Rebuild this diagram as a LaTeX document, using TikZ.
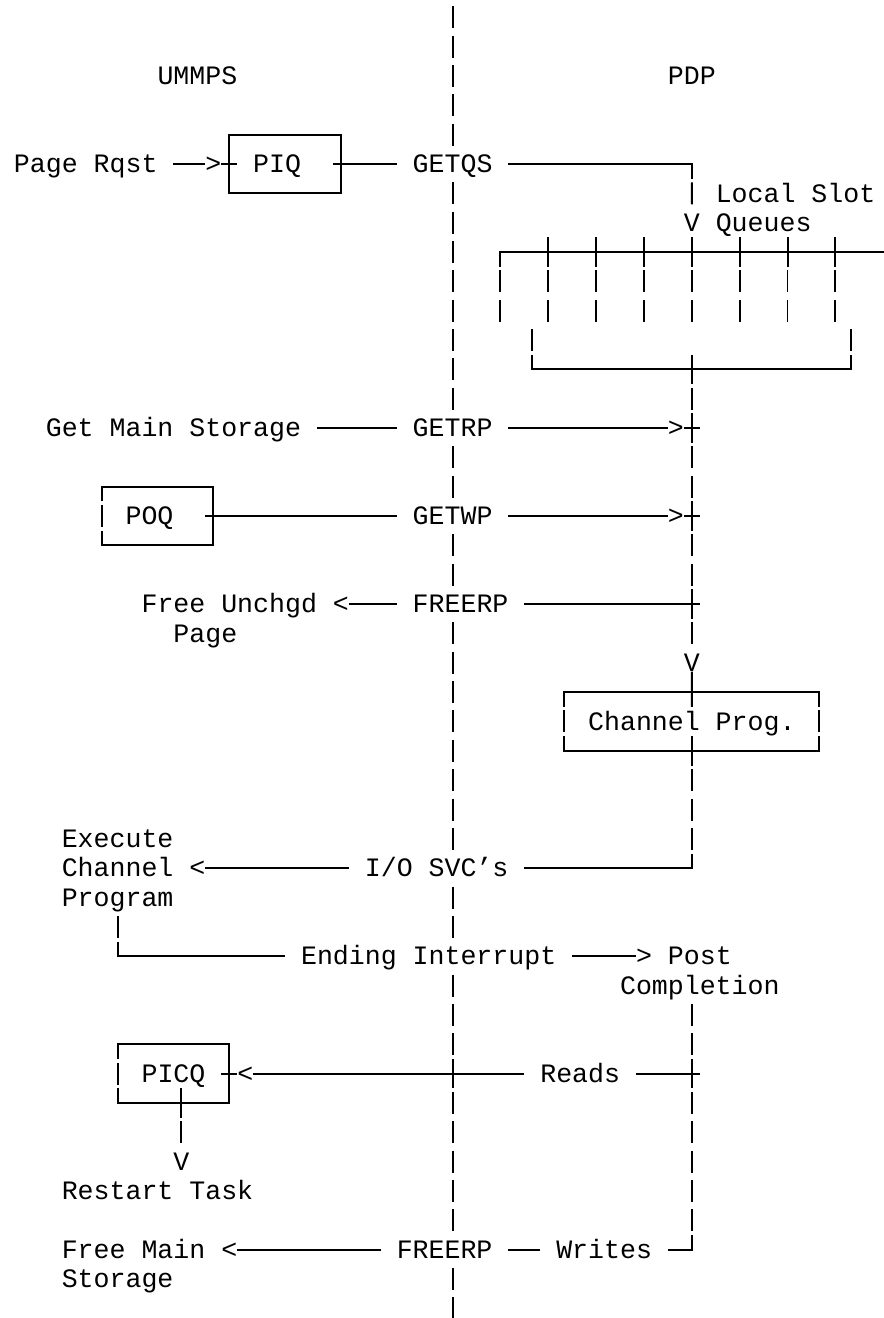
\documentclass[tikz,border=0pt]{standalone}
\usepackage{fontspec}
\newfontfamily\asciimono{Liberation Mono}
\usetikzlibrary{calc}
\begin{document}
\begin{tikzpicture}[x=15.95pt, y=-29.34pt,
  txt/.style={font=\asciimono\fontsize{26.58pt}{29.34pt}\selectfont,
    inner sep=0pt, outer sep=0pt, anchor=west, text height=17.5pt, text depth=0pt},
  frame/.style={inner sep=0pt, outer sep=0pt, minimum height=58.68pt, minimum width=#1*15.95pt},
  boxline/.style={line width=2pt, line join=miter},
  bar/.style={line width=1.9pt, dash pattern=on 22.005pt off 7.335pt}]
\useasboundingbox (-0.3746,-2.5903) rectangle (54.986,42.331);

% ---------- labels ----------
\node[txt] (ummps) at (9.5,0) {UMMPS};
\node[txt] (pdp) at (41.5,0) {PDP};
\node[txt] (pagerqst) at (0.5,3) {Page Rqst};
\node[txt] (tipA) at (12.5,3) {>};
\node[txt] (piq) at (15.5,3) {PIQ};
\node[txt] (getqs) at (25.5,3) {GETQS};
\node[txt] (localslot) at (44.5,4) {Local Slot};
\node[txt] (vslot) at (42.5,5) {V};
\node[txt] (queues) at (44.5,5) {Queues};
\node[txt] (getmain) at (2.5,12) {Get Main Storage};
\node[txt] (getrp) at (25.5,12) {GETRP};
\node[txt] (tipB) at (41.5,12) {>};
\node[txt] (poq) at (7.5,15) {POQ};
\node[txt] (getwp) at (25.5,15) {GETWP};
\node[txt] (tipC) at (41.5,15) {>};
\node[txt] (freeunchgd) at (8.5,18) {Free Unchgd};
\node[txt] (unchgdpage) at (10.5,19) {Page};
\node[txt] (tipD) at (20.5,18) {<};
\node[txt] (freerpA) at (25.5,18) {FREERP};
\node[txt] (vchan) at (42.5,20) {V};
\node[txt] (chanprog) at (36.5,22) {Channel Prog.};
\node[txt] (execute) at (3.5,26) {Execute};
\node[txt] (channel) at (3.5,27) {Channel};
\node[txt] (program) at (3.5,28) {Program};
\node[txt] (tipE) at (11.5,27) {<};
\node[txt] (iosvc) at (22.5,27) {I/O SVC’s};
\node[txt] (ending) at (18.5,30) {Ending Interrupt};
\node[txt] (tipF) at (39.5,30) {>};
\node[txt] (post) at (41.5,30) {Post};
\node[txt] (completion) at (38.5,31) {Completion};
\node[txt] (picq) at (8.5,34) {PICQ};
\node[txt] (tipG) at (14.5,34) {<};
\node[txt] (reads) at (33.5,34) {Reads};
\node[txt] (vpicq) at (10.5,37) {V};
\node[txt] (restart) at (3.5,38) {Restart Task};
\node[txt] (freemain) at (3.5,40) {Free Main};
\node[txt] (storage) at (3.5,41) {Storage};
\node[txt] (tipH) at (13.5,40) {<};
\node[txt] (freerpB) at (24.5,40) {FREERP};
\node[txt] (writes) at (34.5,40) {Writes};

% ---------- queue boxes ----------
\node[frame=7] (piqbox) at (17.5,3) {};
\node[frame=7] (poqbox) at (9.5,15) {};
\node[frame=16] (chanbox) at (43,22) {};
\node[frame=7] (picqbox) at (10.5,34) {};

\draw[boxline] (piqbox.north west) rectangle (piqbox.south east);

\draw[boxline] ($(poqbox.west)+(0,-0.5)$) -- (poqbox.north west) -- (poqbox.north east)
  -- (poqbox.south east) -- (poqbox.south west) -- ($(poqbox.west)+(0,0.5)$);
\draw[bar] ($(poqbox.west)+(0,-0.375)$) -- ($(poqbox.west)+(0,0.375)$);

\draw[boxline] ($(picqbox.west)+(0,-0.5)$) -- (picqbox.north west) -- (picqbox.north east)
  -- (picqbox.south east) -- (picqbox.south west) -- ($(picqbox.west)+(0,0.5)$);
\draw[bar] ($(picqbox.west)+(0,-0.375)$) -- ($(picqbox.west)+(0,0.375)$);

\draw[boxline] ($(chanbox.west)+(0,-0.5)$) -- (chanbox.north west) -- (chanbox.north east)
  -- ($(chanbox.east)+(0,-0.5)$);
\draw[boxline] ($(chanbox.west)+(0,0.5)$) -- (chanbox.south west) -- (chanbox.south east)
  -- ($(chanbox.east)+(0,0.5)$);
\draw[bar] ($(chanbox.west)+(0,-0.375)$) -- ($(chanbox.west)+(0,0.375)$);
\draw[bar] ($(chanbox.east)+(0,-0.375)$) -- ($(chanbox.east)+(0,0.375)$);

% ---------- UMMPS / PDP divider ----------
\foreach \a/\b in {-2/2, 4/11, 13/14, 16/17, 19/26, 28/29, 31/33, 35/39, 41/42}
  \draw[bar] (28,\a-0.375) -- (28,\b+0.375);
\draw[boxline] (28,33.5) -- (28,34.5);

% ---------- page request into the slot queues ----------
\coordinate (qcorner) at (43,3);
\draw[boxline] ($(pagerqst.east)+(1,0)$) -- (tipA.west);
\draw[boxline] (tipA.east) -- ($(piqbox.west)+(0.5,0)$);
\draw[boxline] ($(piqbox.east)+(-0.5,0)$) -- ($(getqs.west)+(-1,0)$);
\draw[boxline] ($(getqs.east)+(1,0)$) -- (qcorner) -- ($(qcorner)+(0,0.5)$);
\draw[bar] ($(qcorner)+(0,0.625)$) -- ($(vslot.north)+(0,-0.125)$);

% local slot queues
\draw[boxline] (31,6.5) -- (31,6) -- (56,6);
\foreach \c in {34,37,...,52} \draw[boxline] (\c,5.5) -- (\c,6.5);
\foreach \c in {31,34,...,52} \draw[bar] (\c,6.625) -- (\c,8.375);
\draw[bar] (33,8.625) -- (33,9.375);
\draw[bar] (53,8.625) -- (53,9.375);
\coordinate (slotsum) at (43,10);
\draw[boxline] (33,9.5) -- (33,10) -- (53,10) -- (53,9.5);
\draw[boxline] ($(slotsum)+(0,-0.5)$) -- ($(slotsum)+(0,0.5)$);
\draw[bar] (43,10.625) -- (43,11.375);

% GETRP
\draw[boxline] ($(getmain.east)+(1,0)$) -- ($(getrp.west)+(-1,0)$);
\draw[boxline] ($(getrp.east)+(1,0)$) -- (tipB.west);
\draw[boxline] (tipB.east) -- ++(1,0);
\draw[boxline] (43,11.5) -- (43,12.5);
\draw[bar] (43,12.625) -- (43,14.375);

% GETWP
\draw[boxline] ($(poqbox.east)+(-0.5,0)$) -- ($(getwp.west)+(-1,0)$);
\draw[boxline] ($(getwp.east)+(1,0)$) -- (tipC.west);
\draw[boxline] (tipC.east) -- ++(1,0);
\draw[boxline] (43,14.5) -- (43,15.5);
\draw[bar] (43,15.625) -- (43,17.375);

% FREERP (unchanged page)
\draw[boxline] (tipD.east) -- ($(freerpA.west)+(-1,0)$);
\draw[boxline] ($(freerpA.east)+(1,0)$) -- (43.5,18);
\draw[boxline] (43,17.5) -- (43,18.5);
\draw[bar] (43,18.625) -- (43,19.375);

% channel program
\draw[boxline] (vchan.south) -- ($(chanbox.north)+(0,0.5)$);
\draw[boxline] ($(chanbox.south)+(0,-0.5)$) -- ($(chanbox.south)+(0,0.5)$);
\draw[bar] (43,23.625) -- (43,26.375);

% I/O SVC's
\draw[boxline] (43,26.5) -- (43,27) -- ($(iosvc.east)+(1,0)$);
\draw[boxline] ($(iosvc.west)+(-1,0)$) -- (tipE.east);

% ending interrupt
\draw[bar] (7,28.625) -- (7,29.375);
\draw[boxline] (7,29.5) -- (7,30) -- ($(ending.west)+(-1,0)$);
\draw[boxline] ($(ending.east)+(1,0)$) -- (tipF.west);

% post completion: reads and writes
\draw[bar] (43,31.625) -- (43,33.375);
\draw[boxline] ($(picqbox.east)+(-0.5,0)$) -- (tipG.west);
\draw[boxline] (tipG.east) -- ($(reads.west)+(-1,0)$);
\draw[boxline] ($(reads.east)+(1,0)$) -- (43.5,34);
\draw[boxline] (43,33.5) -- (43,34.5);
\draw[bar] (43,34.625) -- (43,39.375);

\draw[boxline] ($(picqbox.south)+(0.5,-0.5)$) -- ($(picqbox.south)+(0.5,0.5)$);
\draw[bar] (11,35.625) -- (11,36.375);

\draw[boxline] (43,39.5) -- (43,40) -- ($(writes.east)+(1,0)$);
\draw[boxline] ($(writes.west)+(-1,0)$) -- ($(freerpB.east)+(1,0)$);
\draw[boxline] ($(freerpB.west)+(-1,0)$) -- (tipH.east);
\end{tikzpicture}
\end{document}
